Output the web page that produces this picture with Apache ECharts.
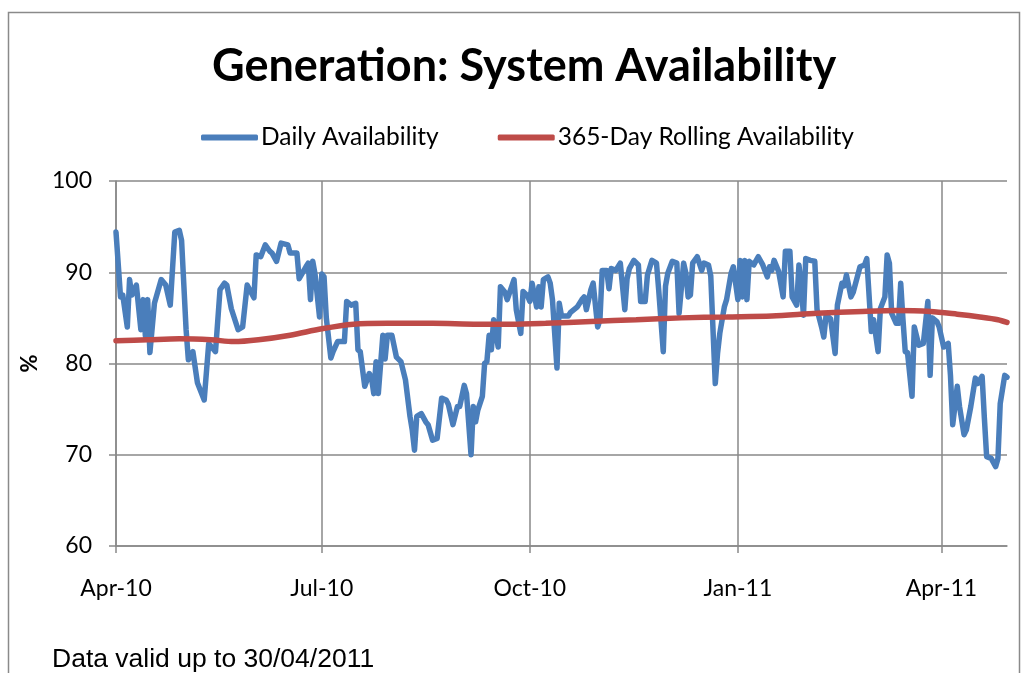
<!DOCTYPE html>
<html>
<head>
<meta charset="utf-8">
<script src="https://cdn.jsdelivr.net/npm/echarts@6/dist/echarts.min.js"></script>
<style>
html,body{margin:0;padding:0;background:#fff;}
#chart{width:1027px;height:673px;}
</style>
</head>
<body>
<div id="chart"></div>
<script>
// ---- data ----
var startDate = '2010-04-01';
var endDate = '2011-04-30';
var seriesNames = ['Daily Availability', '365-Day Rolling Availability'];
var quarterMonths = ['01', '04', '07', '10'];
var monthNames = ['Jan','Feb','Mar','Apr','May','Jun','Jul','Aug','Sep','Oct','Nov','Dec'];

// daily availability: day index (days since 1 Apr 2010) and value (%)
var dailyDay = [
  0,2,3,5,6,7,9,11,12,13,14,15,17,20,22,24,26,28,29,31,32,34,36,39,41,44,46,48,
  49,51,54,56,58,61,62,64,66,68,69,71,73,76,77,80,81,84,85,86,87,88,90,91,92,93,95,
  96,98,101,102,104,106,107,108,110,112,113,114,115,116,118,119,120,122,124,126,128,130,131,132,133,135,137,138,140,142,144,
  146,147,149,151,152,154,155,157,158,159,160,162,163,164,165,166,167,169,170,172,173,176,177,179,180,182,183,184,186,187,188,189,191,
  192,193,195,196,197,200,201,204,206,207,208,210,211,213,214,215,217,218,219,221,223,225,226,227,229,231,232,234,235,237,239,240,242,
  243,244,246,248,249,251,252,253,254,255,257,259,260,262,263,265,266,267,269,270,272,273,275,276,277,278,279,280,282,284,286,288,289,290,291,
  293,295,296,298,299,301,302,303,304,305,307,309,310,312,313,314,316,318,319,321,322,323,325,326,329,331,332,334,335,337,338,340,
  341,342,343,345,346,347,348,349,350,352,353,355,357,359,360,361,363,364,366,368,369,370,372,373,375,376,378,380,381,383,384,385,387,389,390,391,393,394
];
var dailyValue = [
  94.4,87.3,87.5,84.0,89.2,87.5,88.6,83.7,87.0,83.0,87.0,81.2,86.6,89.2,88.6,86.4,94.4,94.6,93.5,83.7,80.4,81.3,77.9,76.0,82.2,81.3,88.1,88.8,
  88.6,86.0,83.7,84.0,88.6,87.2,91.9,91.7,93.0,92.3,92.1,91.2,93.2,93.0,92.1,92.1,89.3,90.6,91.0,87.0,91.2,89.8,85.1,89.8,89.5,85.0,80.6,
  81.3,82.4,82.4,86.8,86.4,86.6,81.5,81.3,77.5,78.9,78.4,76.7,80.2,76.7,83.1,80.5,83.1,83.1,80.7,80.2,78.2,74.2,72.7,70.5,74.2,74.5,73.6,73.3,71.6,71.8,76.2,
  76.0,75.5,73.3,75.3,75.3,77.6,76.7,70.0,75.3,73.6,74.9,76.4,80.0,80.2,83.1,81.5,84.8,81.8,88.4,87.8,87.0,89.2,85.9,83.3,87.9,87.4,86.8,88.8,86.2,88.4,86.2,89.2,89.5,
  88.8,87.0,79.5,86.6,85.2,85.2,85.6,86.2,87.0,87.3,85.9,88.1,88.8,84.0,84.8,90.2,90.2,88.2,90.4,90.2,91.0,85.9,89.3,90.4,91.3,90.8,86.8,86.8,89.7,91.3,91.0,88.0,81.3,
  88.5,89.9,91.2,91.0,85.5,91.0,89.9,87.3,87.5,91.0,91.7,90.2,91.0,90.8,89.6,77.8,81.1,83.3,86.2,87.0,89.9,90.6,87.0,91.3,87.3,91.3,87.0,91.2,90.8,91.7,90.8,89.5,90.6,90.2,91.3,
  90.1,87.3,92.3,92.3,87.3,86.4,90.8,88.5,85.3,91.5,91.3,91.2,85.9,84.0,82.9,85.3,84.9,81.1,86.4,88.8,88.5,89.7,87.3,87.8,90.6,90.8,91.5,83.5,84.8,81.3,86.0,87.3,
  91.9,91.0,85.5,84.4,84.4,88.8,84.8,81.3,81.2,76.4,84.0,82.0,82.2,86.8,78.7,85.0,84.6,84.0,81.8,82.2,78.7,73.3,77.5,75.3,72.2,72.7,75.3,78.4,77.8,78.6,74.0,69.8,69.6,68.7,69.6,75.6,78.7,78.5
];

// 365-day rolling availability: day index and value (%)
var rollingDay =   [0,   14,  28,  42,  52,  63,  77,  91,  105, 120, 140, 160, 175, 190, 210, 230, 250, 270, 290, 310, 330, 345, 360, 372, 382, 390, 394];
var rollingValue = [82.5,82.6,82.7,82.6,82.4,82.6,83.1,83.8,84.3,84.4,84.4,84.3,84.3,84.4,84.6,84.8,85.0,85.1,85.2,85.5,85.7,85.8,85.7,85.4,85.1,84.8,84.5];

var yMin = 60, yMax = 100, yStep = 10;

// ---- build category axis (one category per day) ----
function pad(n){ return n < 10 ? '0' + n : '' + n; }
var categories = [];
(function(){
  var p = startDate.split('-'), e = endDate.split('-');
  var d = new Date(Date.UTC(+p[0], +p[1]-1, +p[2]));
  var end = new Date(Date.UTC(+e[0], +e[1]-1, +e[2]));
  while (d <= end) {
    categories.push(d.getUTCFullYear() + '-' + pad(d.getUTCMonth()+1) + '-' + pad(d.getUTCDate()));
    d = new Date(d.getTime() + 86400000);
  }
})();
function toSeries(days, vals){
  var arr = categories.map(function(){ return null; });
  for (var i = 0; i < days.length; i++) arr[days[i]] = vals[i];
  return arr;
}
function isQuarterStart(index, value){
  var s = value.split('-');
  return s[2] === '01' && quarterMonths.indexOf(s[1]) >= 0;
}

var gridColor = '#898989';
var chart = echarts.init(document.getElementById('chart'), null, {renderer: 'canvas'});
chart.setOption({
  animation: false,
  backgroundColor: '#fff',
  grid: {left: 116, right: 20, top: 181, bottom: 127},
  legend: {
    data: seriesNames,
    left: 196, top: 120,
    icon: 'roundRect',
    itemWidth: 57, itemHeight: 6, itemGap: 59,
    textStyle: {fontFamily: 'Lato', fontSize: 24.5, color: '#000', padding: [0,0,0,-2]}
  },
  graphic: [
    {type: 'rect', shape: {x: 8.5, y: 12.5, width: 1011, height: 700}, style: {fill: 'none', stroke: '#8a8a8a', lineWidth: 1.5}, silent: true},
    {type: 'text', left: 212, top: 44, style: {text: 'Generation: System Availability', font: 'bold 45px Lato', fill: '#000'}},
    {type: 'text', left: 52, top: 646, style: {text: 'Data valid up to 30/04/2011', font: '26.5px "Liberation Sans"', fill: '#000'}}
  ],
  xAxis: {
    type: 'category',
    data: categories,
    boundaryGap: false,
    axisLine: {lineStyle: {color: gridColor, width: 1.5}},
    axisTick: {show: true, interval: isQuarterStart, length: 7, lineStyle: {color: gridColor, width: 1.5}},
    axisLabel: {
      interval: isQuarterStart,
      margin: 31,
      fontFamily: 'Lato', fontSize: 23, color: '#000',
      formatter: function(v){ var s = v.split('-'); return monthNames[+s[1]-1] + '-' + s[0].slice(2); }
    },
    splitLine: {show: true, interval: isQuarterStart, lineStyle: {color: gridColor, width: 1.5}}
  },
  yAxis: {
    type: 'value',
    min: yMin, max: yMax, interval: yStep,
    name: '%', nameLocation: 'middle', nameRotate: 90, nameGap: 75,
    nameTextStyle: {fontFamily: 'Lato', fontWeight: 'bold', fontSize: 22, color: '#000'},
    axisLine: {show: true, lineStyle: {color: gridColor, width: 1.5}},
    axisTick: {show: true, length: 7, lineStyle: {color: gridColor, width: 1.5}},
    axisLabel: {margin: 24, fontFamily: 'Lato', fontSize: 23, color: '#000'},
    splitLine: {show: true, lineStyle: {color: gridColor, width: 1.5}}
  },
  series: [
    {
      name: seriesNames[0], type: 'line', data: toSeries(dailyDay, dailyValue),
      connectNulls: true, showSymbol: false, symbol: 'none',
      lineStyle: {color: '#4A7EBB', width: 5.5, join: 'round', cap: 'round'},
      itemStyle: {color: '#4A7EBB'}
    },
    {
      name: seriesNames[1], type: 'line', data: toSeries(rollingDay, rollingValue),
      connectNulls: true, showSymbol: false, symbol: 'none', smooth: 0.3,
      lineStyle: {color: '#BE4B48', width: 5.5, cap: 'round'},
      itemStyle: {color: '#BE4B48'}
    }
  ]
});
</script>
</body>
</html>
